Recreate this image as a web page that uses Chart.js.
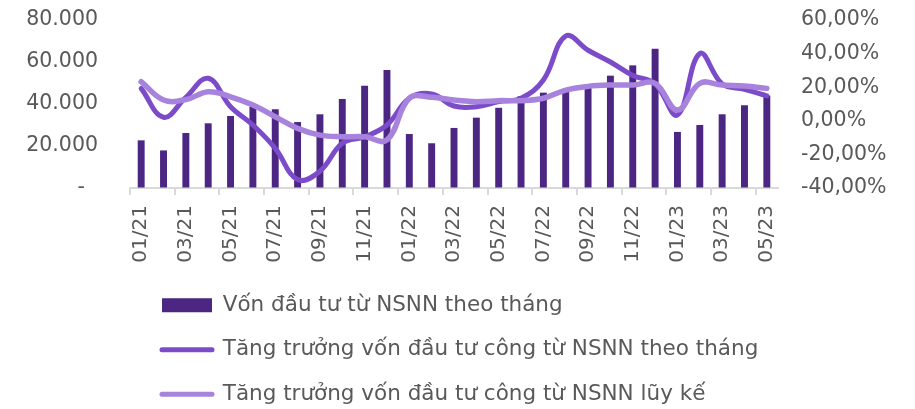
<!DOCTYPE html>
<html>
<head>
<meta charset="utf-8">
<script src="https://cdn.jsdelivr.net/npm/chart.js@4/dist/chart.umd.min.js"></script>
<style>
  html, body { margin: 0; padding: 0; background: #ffffff; }
  #wrap { width: 915px; height: 409px; position: relative; }
</style>
</head>
<body>
<div id="wrap"><canvas id="c" width="915" height="409"></canvas></div>
<script>
const months = ['01/21','02/21','03/21','04/21','05/21','06/21','07/21','08/21','09/21','10/21','11/21','12/21',
                '01/22','02/22','03/22','04/22','05/22','06/22','07/22','08/22','09/22','10/22','11/22','12/22',
                '01/23','02/23','03/23','04/23','05/23'];
const monthlyCapital = [22700, 17900, 26200, 30800, 34300, 38700, 37500, 31400, 35100, 42400, 48700, 56200,
                        25700, 21300, 28600, 33500, 38200, 43700, 45400, 46500, 47800, 53500, 58400, 66300,
                        26700, 30000, 35100, 39400, 44000];
const monthlyGrowth = [19.3, 2.1, 14.0, 25.3, 8.4, -2.5, -16.4, -35.0, -30.0, -13.4, -9.5, -2.5,
                       13.4, 16.0, 8.8, 8.4, 11.4, 13.4, 24.3, 50.5, 42.0, 35.0, 27.0, 22.0,
                       3.5, 40.0, 22.0, 18.7, 14.8];
const cumulativeGrowth = [23.3, 12.4, 12.6, 17.3, 14.3, 9.4, 2.4, -4.5, -8.5, -9.5, -9.5, -11.4,
                          13.4, 14.0, 12.4, 11.4, 12.0, 12.0, 13.4, 18.3, 20.5, 21.3, 21.3, 22.3,
                          6.4, 22.3, 21.3, 20.7, 19.3];
const leftTicks = [0, 20000, 40000, 60000, 80000];
const rightTicks = [-40, -20, 0, 20, 40, 60];
const seriesNames = ['Vốn đầu tư từ NSNN theo tháng',
                     'Tăng trưởng vốn đầu tư công từ NSNN theo tháng',
                     'Tăng trưởng vốn đầu tư công từ NSNN lũy kế'];

const BAR = '#4B2683';
const DARK = '#7C4BCA';
const LIGHT = '#A783DD';
const TXT = '#595959';
const FONT = 'DejaVu Sans';
const LEG_FONT = 21.5;
const LEG_PAD = 23;

const legendShift = {
  id: 'legendShift',
  afterLayout(chart) {
    const lg = chart.legend;
    if (!lg) return;
    lg.left = 139;
    lg.top = lg.top + 6;
  }
};

new Chart(document.getElementById('c'), {
  data: {
    labels: months,
    datasets: [
      { type: 'bar', label: seriesNames[0], data: monthlyCapital, backgroundColor: BAR,
        yAxisID: 'y', order: 2, barPercentage: 0.31, categoryPercentage: 1 },
      { type: 'line', label: seriesNames[1], data: monthlyGrowth, borderColor: DARK, backgroundColor: DARK,
        borderWidth: 5, pointRadius: 0, tension: 0.4, yAxisID: 'y1', order: 1, borderCapStyle: 'round' },
      { type: 'line', label: seriesNames[2], data: cumulativeGrowth, borderColor: LIGHT, backgroundColor: LIGHT,
        borderWidth: 5.5, pointRadius: 0, tension: 0.4, yAxisID: 'y1', order: 0, borderCapStyle: 'round' }
    ]
  },
  options: {
    responsive: false,
    animation: false,
    devicePixelRatio: 1,
    layout: { padding: { top: 20, bottom: 0, left: 0, right: 0 } },
    plugins: {
      tooltip: { enabled: false },
      legend: {
        position: 'bottom',
        align: 'start',
        labels: {
          usePointStyle: true,
          pointStyleWidth: 50,
          boxHeight: 14,
          padding: LEG_PAD,
          color: TXT,
          font: { family: FONT, size: LEG_FONT },
          generateLabels(chart) {
            return chart.data.datasets.map((ds, i) => ({
              text: ds.label,
              datasetIndex: i,
              fillStyle: ds.type === 'bar' ? ds.backgroundColor : ds.borderColor,
              strokeStyle: ds.type === 'bar' ? ds.backgroundColor : ds.borderColor,
              lineWidth: ds.type === 'bar' ? 0 : 5,
              lineCap: 'round',
              pointStyle: ds.type === 'bar' ? 'rect' : 'line',
              fontColor: TXT,
              hidden: false
            }));
          }
        }
      }
    },
    scales: {
      x: {
        offset: true,
        grid: {
          offset: true,
          drawOnChartArea: false,
          drawTicks: true,
          tickLength: 7,
          lineWidth: 2,
          color: (ctx) => (ctx.type === 'tick' && ctx.index % 2 === 0) ? '#D9D9D9' : 'rgba(0,0,0,0)'
        },
        border: { display: true, color: '#D9D9D9', width: 2 },
        ticks: {
          autoSkip: false,
          minRotation: 90,
          maxRotation: 90,
          padding: 10,
          color: TXT,
          font: { family: FONT, size: 20 },
          callback: function (v, i) { return i % 2 === 0 ? this.getLabelForValue(v) : ''; }
        },
        afterFit(scale) { scale.height = 409 - 188 - (3 * (LEG_FONT + LEG_PAD) + 10); }
      },
      y: {
        position: 'left',
        min: 0, max: 80000,
        afterBuildTicks(scale) { scale.ticks = leftTicks.map(v => ({ value: v })); },
        grid: { display: true, drawOnChartArea: false, drawTicks: true, tickLength: 29, color: 'rgba(0,0,0,0)' },
        border: { display: false },
        ticks: {
          padding: 3,
          color: TXT,
          font: { family: FONT, size: 20.5 },
          callback: (v) => v === 0 ? '-  ' : v.toLocaleString('de-DE')
        },
        afterFit(scale) { scale.width = 130; }
      },
      y1: {
        position: 'right',
        min: -40, max: 60,
        afterBuildTicks(scale) { scale.ticks = rightTicks.map(v => ({ value: v })); },
        grid: { display: true, drawOnChartArea: false, drawTicks: true, tickLength: 20, color: 'rgba(0,0,0,0)' },
        border: { display: false },
        ticks: {
          padding: 3,
          color: TXT,
          font: { family: FONT, size: 20.5 },
          callback: (v) => v.toFixed(2).replace('.', ',') + '%'
        },
        afterFit(scale) { scale.width = 137; }
      }
    }
  },
  plugins: [legendShift]
});
</script>
</body>
</html>
